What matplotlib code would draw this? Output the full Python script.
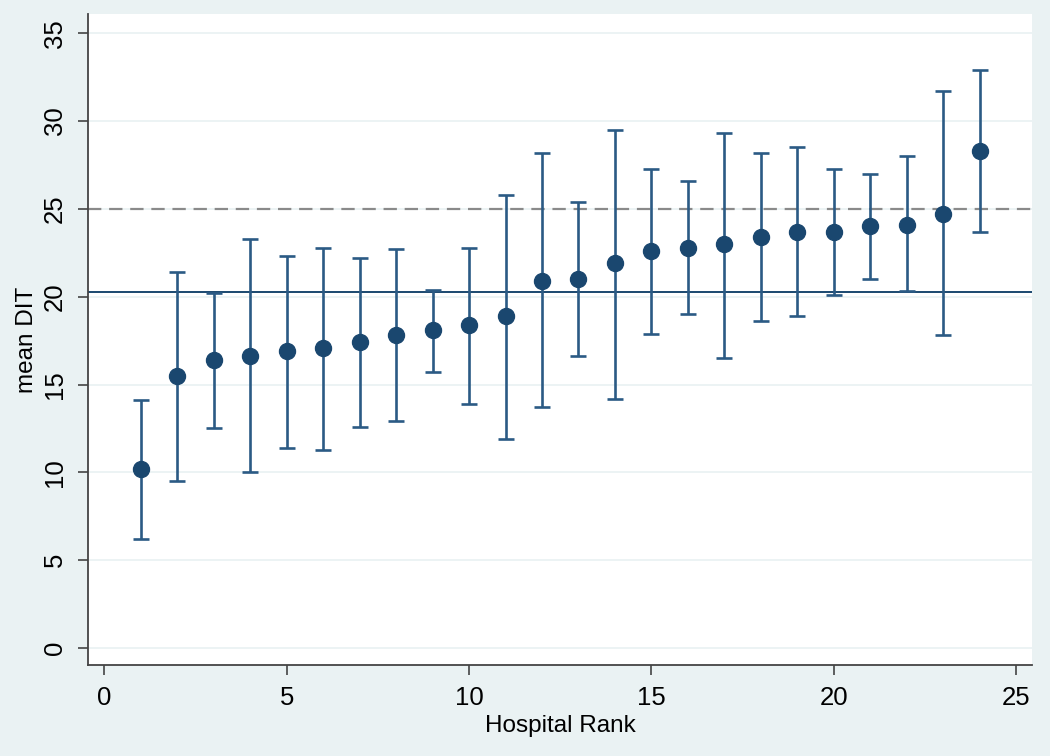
import numpy as np
import matplotlib
matplotlib.use("Agg")
import matplotlib.pyplot as plt

plt.rcParams['font.family'] = ['Liberation Sans', 'DejaVu Sans']

# hospital rank, mean DIT and 95% CI bounds
rank = list(range(1, 25))
mean_dit = [10.2, 15.5, 16.4, 16.6, 16.9, 17.1, 17.4, 17.8, 18.1, 18.4, 18.9, 20.9,
            21.0, 21.9, 22.6, 22.8, 23.0, 23.4, 23.7, 23.7, 24.0, 24.1, 24.7, 28.3]
ci_upper = [14.1, 21.4, 20.2, 23.3, 22.3, 22.8, 22.2, 22.7, 20.4, 22.8, 25.8, 28.2,
            25.4, 29.5, 27.3, 26.6, 29.3, 28.2, 28.5, 27.3, 27.0, 28.0, 31.7, 32.9]
ci_lower = [6.2, 9.5, 12.5, 10.0, 11.4, 11.3, 12.6, 12.9, 15.7, 13.9, 11.9, 13.7,
            16.6, 14.2, 17.9, 19.0, 16.5, 18.6, 18.9, 20.1, 21.0, 20.3, 17.8, 23.7]
overall_mean = 20.28
target = 25

navy = '#1a476f'
bar_col = '#2b5a84'
bg = '#eaf2f3'

fig = plt.figure(figsize=(10.5, 7.56), dpi=100, facecolor=bg)
ax = fig.add_axes([0.0838, 0.1204, 0.8991, 0.8611])
ax.set_facecolor('white')

yerr = [np.array(mean_dit) - np.array(ci_lower), np.array(ci_upper) - np.array(mean_dit)]
ax.errorbar(rank, mean_dit, yerr=yerr, fmt='none', ecolor=bar_col, elinewidth=1.9,
            capsize=5.5, capthick=1.9, zorder=3)
ax.plot(rank, mean_dit, 'o', color=navy, markersize=11.5, zorder=4)

ax.axhline(overall_mean, color=navy, lw=1.4, zorder=2)
ax.axhline(target, color='#8a8a8a', lw=1.6, dashes=(6, 3.5), zorder=2)

ax.set_xlim(-0.45, 25.44)
ax.set_ylim(-0.97, 36.1)
ax.set_xticks([0, 5, 10, 15, 20, 25])
ax.set_yticks([0, 5, 10, 15, 20, 25, 30, 35])
ax.yaxis.grid(True, color=bg, lw=1.3)
ax.set_axisbelow(True)

for s in ['top', 'right']:
    ax.spines[s].set_visible(False)
for s in ['left', 'bottom']:
    ax.spines[s].set_color('#444444')
    ax.spines[s].set_linewidth(1.3)

ax.tick_params(axis='both', length=7, width=1.2, color='#444444', labelsize=18.5)
ax.tick_params(axis='x', pad=8)
ax.tick_params(axis='y', pad=8)
for lbl in ax.get_yticklabels():
    lbl.set_rotation(90)
    lbl.set_va('center')

ax.set_xlabel('Hospital Rank', fontsize=17.5, labelpad=4)
ax.set_ylabel('mean DIT', fontsize=17.5, labelpad=4)

fig.savefig('out.png', dpi=100, facecolor=bg)
